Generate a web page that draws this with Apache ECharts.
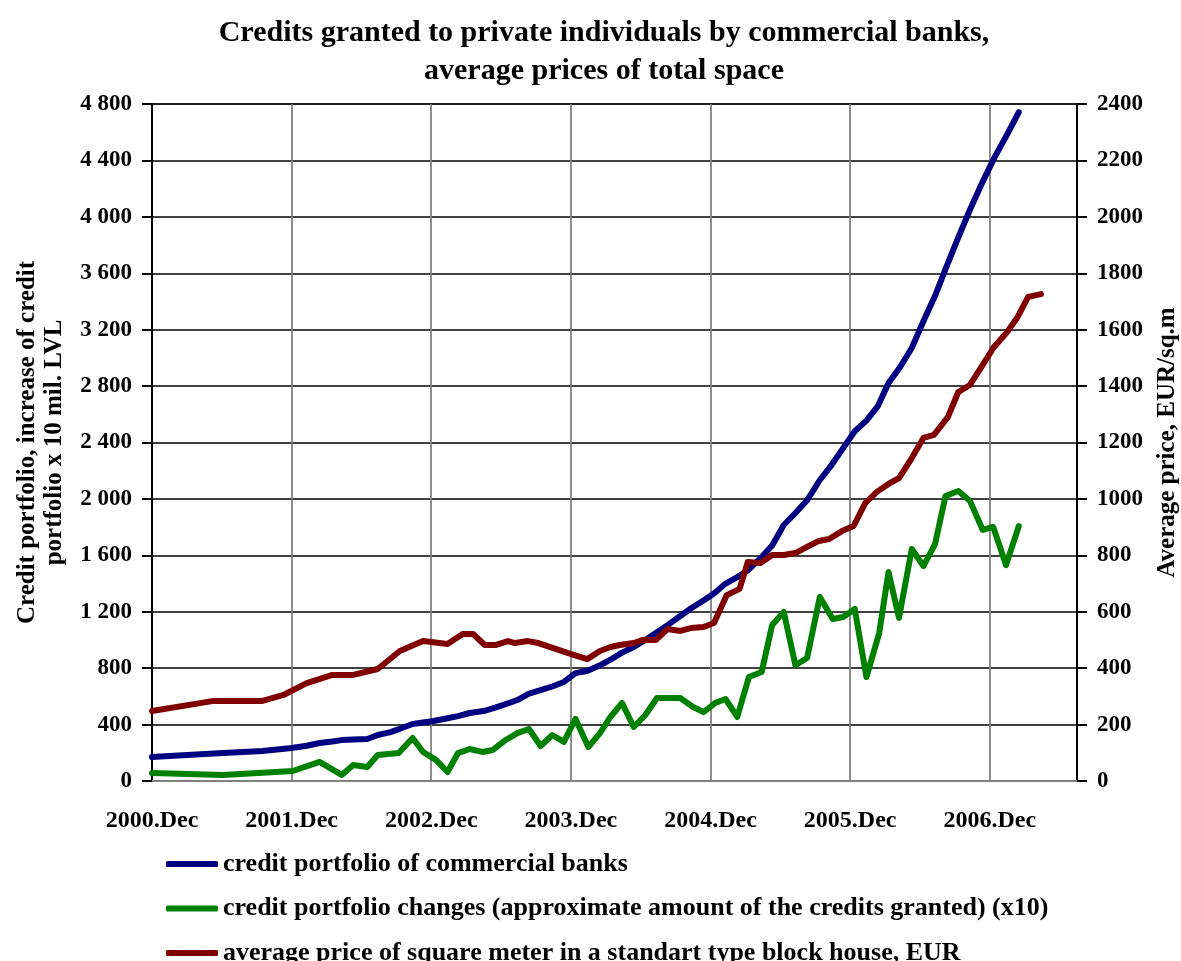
<!DOCTYPE html>
<html>
<head>
<meta charset="utf-8">
<script src="https://cdn.jsdelivr.net/npm/echarts@6/dist/echarts.min.js"></script>
<style>
  html, body { margin: 0; padding: 0; background: #fff; }
  #chart { width: 1181px; height: 961px; }
</style>
</head>
<body>
<div id="chart"></div>
<script>
// months counted from 2000.Dec (0 = 2000.Dec, 12 = 2001.Dec ...)
const yearLabels = ['2000.Dec', '2001.Dec', '2002.Dec', '2003.Dec', '2004.Dec', '2005.Dec', '2006.Dec']

const creditMonths = [0, 5.3, 9.5, 12, 13.3, 14.4, 15.5, 16.3, 17.3, 18.5, 19.4, 20.5, 21.3, 22.4, 23.3, 24.2,
  25.4, 26.3, 27.3, 28.5, 29.5, 30.4, 31.4, 32.4, 33.4, 34.4, 35.4, 36.4, 37.4, 38.5, 39.4, 40.4, 41.4, 42.4,
  43.4, 44.4, 45.4, 46.4, 47.4, 48.3, 49.3, 50.3, 51.3, 52.3, 53.3, 54.3, 55.3, 56.3, 57.4, 58.4, 59.4, 60.4,
  61.4, 62.4, 63.3, 64.3, 65.3, 66.3, 67.3, 68.3, 69.3, 70.3, 71.4, 72.4, 73.4, 74.5]
const creditValues = [170, 195, 213, 234, 250, 269, 280, 290, 295, 298, 326, 347, 370, 404, 415, 425,
  445, 460, 482, 496, 520, 545, 574, 620, 645, 670, 702, 765, 780, 820, 860, 910, 950, 1000,
  1055, 1110, 1170, 1228, 1280, 1330, 1400, 1445, 1500, 1580, 1670, 1815, 1900, 1990, 2134, 2240, 2360, 2480,
  2555, 2660, 2822, 2935, 3070, 3260, 3440, 3650, 3855, 4050, 4250, 4420, 4570, 4743]

const changeMonths = [0, 6.1, 12.1, 14.4, 16.3, 17.3, 18.5, 19.4, 21.2, 22.4, 23.3, 24.4, 25.4, 26.3, 27.3,
  28.4, 29.3, 30.4, 31.4, 32.4, 33.4, 34.4, 35.4, 36.4, 37.5, 38.5, 39.4, 40.4, 41.4, 42.4, 43.4, 44.4, 45.4,
  46.5, 47.4, 48.4, 49.3, 50.3, 51.3, 52.4, 53.3, 54.3, 55.3, 56.3, 57.4, 58.5, 59.4, 60.4, 61.4, 62.5, 63.3,
  64.2, 65.3, 66.3, 67.3, 68.2, 69.3, 70.3, 71.4, 72.3, 73.4, 74.5]
const changeValues = [57, 43, 71, 135, 43, 113, 99, 184, 198, 305, 206, 150, 64, 198, 227,
  206, 220, 291, 340, 369, 248, 326, 277, 440, 241, 340, 454, 553, 383, 468, 588, 588, 588,
  525, 489, 553, 581, 454, 737, 773, 1106, 1198, 822, 872, 1305, 1149, 1163, 1220, 737, 1049, 1482,
  1156, 1645, 1524, 1680, 2021, 2056, 1985, 1780, 1801, 1531, 1808]

const priceMonths = [0, 5.3, 9.5, 11.3, 13.3, 15.5, 17.3, 19.4, 21.3, 23.3, 25.4, 26.7, 27.6, 28.6, 29.5,
  30.6, 31.2, 32.3, 33.2, 34.5, 35.7, 37.4, 38.5, 39.4, 40.2, 41.4, 42.2, 43.3, 44.3, 45.4, 46.3, 47.4, 48.3,
  49.4, 50.5, 51.2, 52.3, 53.3, 54.3, 55.3, 56.3, 57.3, 58.2, 59.3, 60.3, 61.3, 62.3, 63.3, 64.2, 65.3, 66.3,
  67.2, 68.4, 69.3, 70.3, 71.4, 72.3, 73.5, 74.4, 75.3, 76.4]
const priceValues = [248, 284, 284, 305, 347, 376, 376, 397, 461, 496, 486, 521, 521, 482, 482,
  496, 489, 496, 489, 471, 454, 432, 461, 475, 482, 489, 500, 500, 539, 532, 542, 546, 560,
  659, 681, 776, 773, 801, 801, 808, 830, 851, 858, 886, 904, 985, 1025, 1053, 1074, 1145, 1216,
  1227, 1290, 1379, 1404, 1475, 1535, 1592, 1645, 1716, 1726]

const seriesNames = [
  'credit portfolio of commercial banks',
  'credit portfolio changes (approximate amount of the credits granted) (x10)',
  'average price of square meter in a standart type block house, EUR'
]

const font = 'Liberation Serif'
const pairs = (xs, ys) => xs.map((x, i) => [x, ys[i]])

function lineSeries(name, color, data, yAxisIndex) {
  return {
    name: name,
    type: 'line',
    yAxisIndex: yAxisIndex,
    data: data,
    symbol: 'none',
    lineStyle: { color: color, width: 6, cap: 'round', join: 'round' },
    itemStyle: { color: color },
    z: 3
  }
}

const chart = echarts.init(document.getElementById('chart'))
chart.setOption({
  animation: false,
  backgroundColor: '#fff',
  textStyle: { fontFamily: font, fontWeight: 'bold', color: '#000' },
  title: {
    text: 'Credits granted to private individuals by commercial banks,\naverage prices of total space',
    left: 604,
    top: 14,
    textAlign: 'center',
    padding: 0,
    textStyle: { fontFamily: font, fontSize: 30, fontWeight: 'bold', lineHeight: 38, color: '#000' }
  },
  grid: {
    left: 152,
    right: 104,
    top: 104,
    bottom: 180,
    outerBoundsMode: 'none',
    show: true,
    borderColor: '#808080',
    borderWidth: 2
  },
  legend: {
    orient: 'vertical',
    left: 166,
    top: 851,
    height: 130,
    padding: 0,
    icon: 'roundRect',
    itemWidth: 52,
    itemHeight: 6,
    itemGap: 18.5,
    data: seriesNames,
    textStyle: { fontFamily: font, fontSize: 26, fontWeight: 'bold', color: '#000', lineHeight: 26 }
  },
  xAxis: {
    type: 'value',
    min: 0,
    max: 79.5,
    interval: 12,
    axisLine: { show: true, lineStyle: { color: '#808080', width: 2 } },
    axisTick: { show: false },
    axisLabel: {
      margin: 28,
      fontSize: 24,
      fontWeight: 'bold',
      fontFamily: font,
      color: '#000',
      showMaxLabel: false,
      formatter: v => (v % 12 === 0 ? yearLabels[v / 12] : '')
    },
    splitLine: { show: true, lineStyle: { color: '#808080', width: 1.8 } }
  },
  yAxis: [
    {
      type: 'value',
      min: 0,
      max: 4800,
      interval: 400,
      position: 'left',
      name: 'Credit portfolio, increase of credit\nportfolio x 10 mil. LVL',
      nameLocation: 'middle',
      nameRotate: 90,
      nameGap: 84,
      nameTextStyle: { fontFamily: font, fontSize: 25, fontWeight: 'bold', color: '#000', lineHeight: 27 },
      axisLine: { show: true, lineStyle: { color: '#000', width: 2 } },
      axisTick: { show: true, inside: false, length: 10, lineStyle: { color: '#000', width: 2 } },
      axisLabel: {
        margin: 20,
        fontSize: 23,
        fontWeight: 'bold',
        fontFamily: font,
        color: '#000',
        formatter: v => String(v).replace(/\B(?=(\d{3})+(?!\d))/g, ' ')
      },
      splitLine: { show: true, lineStyle: { color: '#000', width: 1.5 } }
    },
    {
      type: 'value',
      min: 0,
      max: 2400,
      interval: 200,
      position: 'right',
      name: 'Average price, EUR/sq.m',
      nameLocation: 'middle',
      nameRotate: 90,
      nameGap: 76,
      nameTextStyle: { fontFamily: font, fontSize: 25, fontWeight: 'bold', color: '#000', lineHeight: 27 },
      axisLine: { show: true, lineStyle: { color: '#000', width: 2 } },
      axisTick: { show: true, inside: false, length: 10, lineStyle: { color: '#000', width: 2 } },
      axisLabel: {
        margin: 20,
        fontSize: 23,
        fontWeight: 'bold',
        fontFamily: font,
        color: '#000',
        formatter: v => String(v)
      },
      splitLine: { show: false }
    }
  ],
  series: [
    lineSeries(seriesNames[0], '#000080', pairs(creditMonths, creditValues), 0),
    lineSeries(seriesNames[1], '#008000', pairs(changeMonths, changeValues), 0),
    lineSeries(seriesNames[2], '#800000', pairs(priceMonths, priceValues), 1)
  ]
})
</script>
</body>
</html>
